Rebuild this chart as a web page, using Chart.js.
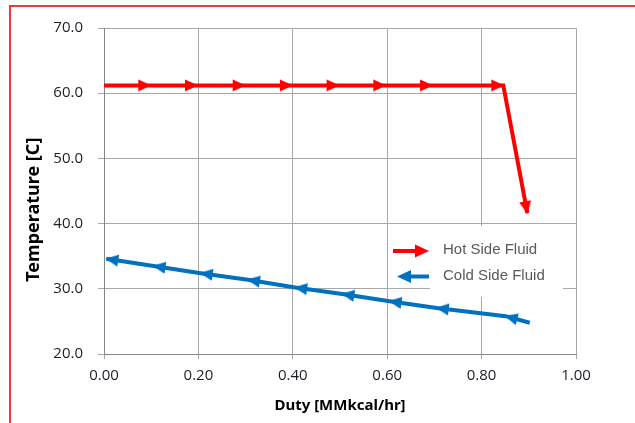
<!DOCTYPE html>
<html>
<head>
<meta charset="utf-8">
<script src="https://cdn.jsdelivr.net/npm/chart.js@4"></script>
<style>
  html, body { margin: 0; padding: 0; background: #fff; }
  #wrap { position: relative; width: 635px; height: 423px; }
  #frame {
    position: absolute; left: 9px; top: 5px; right: -5px; bottom: -5px;
    border-left: 2px solid #ee3a3a; border-top: 2px solid #ee3a3a;
    pointer-events: none;
  }
</style>
</head>
<body>
<div id="wrap">
  <canvas id="hx" width="635" height="423"></canvas>
  <div id="frame"></div>
</div>
<script>
// hot side: flat, then drops at the outlet
const hotX = [0.000, 0.098, 0.197, 0.298, 0.398, 0.497, 0.596, 0.695, 0.846, 0.897];
const hotY = [61.2, 61.2, 61.2, 61.2, 61.2, 61.2, 61.2, 61.2, 61.2, 41.6];

// cold side runs the other way (counter-current)
const coldX = [0.902, 0.851, 0.705, 0.605, 0.505, 0.405, 0.305, 0.205, 0.105, 0.005];
const coldY = [24.8, 25.8, 27.05, 28.1, 29.2, 30.2, 31.4, 32.4, 33.5, 34.6];

const seriesNames = ['Hot Side Fluid', 'Cold Side Fluid'];
const xTicks = [0, 0.2, 0.4, 0.6, 0.8, 1.0];
const yTicks = [20, 30, 40, 50, 60, 70];

const RED = '#ff0000';
const BLUE = '#0070c0';

// arrow head with its tip in the middle of the image
function arrowHead(color) {
    const c = document.createElement('canvas');
    c.width = 26; c.height = 13;
    const g = c.getContext('2d');
    g.fillStyle = color;
    g.beginPath();
    g.moveTo(1, 0.5);
    g.lineTo(14, 6.5);
    g.lineTo(1, 12.5);
    g.closePath();
    g.fill();
    return c;
}

function pts(xs, ys) {
    return xs.map((x, i) => ({ x: x, y: ys[i] }));
}

// turn each head along the segment that ends at that point
function segAngle(c) {
    const i = c.dataIndex;
    if (i === 0) return 0;
    const d = c.dataset.data;
    const sx = c.chart.scales.x, sy = c.chart.scales.y;
    const dx = sx.getPixelForValue(d[i].x) - sx.getPixelForValue(d[i - 1].x);
    const dy = sy.getPixelForValue(d[i].y) - sy.getPixelForValue(d[i - 1].y);
    return Math.atan2(dy, dx) * 180 / Math.PI;
}

const legendBox = {
    id: 'legendBox',
    afterDatasetsDraw(chart) {
        const ctx = chart.ctx;
        ctx.save();
        ctx.fillStyle = '#fff';
        ctx.fillRect(389, 226, 174, 61);
        ctx.fillRect(430, 286, 133, 11);

        const items = [
            { y: 251, color: RED, dir: 1 },
            { y: 276.5, color: BLUE, dir: -1 }
        ];
        items.forEach((it, k) => {
            ctx.strokeStyle = it.color;
            ctx.fillStyle = it.color;
            ctx.lineWidth = 4;
            ctx.beginPath();
            if (it.dir > 0) {
                ctx.moveTo(393, it.y); ctx.lineTo(418, it.y);
            } else {
                ctx.moveTo(408, it.y); ctx.lineTo(429, it.y);
            }
            ctx.stroke();
            ctx.beginPath();
            if (it.dir > 0) {
                ctx.moveTo(415, it.y - 6.5); ctx.lineTo(429, it.y); ctx.lineTo(415, it.y + 6.5);
            } else {
                ctx.moveTo(411, it.y - 6.5); ctx.lineTo(397, it.y); ctx.lineTo(411, it.y + 6.5);
            }
            ctx.closePath();
            ctx.fill();

            ctx.fillStyle = '#595959';
            ctx.font = '15px "Liberation Sans", Arial, sans-serif';
            ctx.textBaseline = 'middle';
            ctx.textAlign = 'left';
            ctx.fillText(seriesNames[k], 443, it.y - 1);
        });
        ctx.restore();
    }
};

new Chart(document.getElementById('hx'), {
    type: 'scatter',
    data: {
        datasets: [{
            label: seriesNames[0],
            data: pts(hotX, hotY),
            showLine: true,
            borderColor: RED,
            borderWidth: 4,
            tension: 0,
            pointStyle: arrowHead(RED),
            pointRadius: c => c.dataIndex === 0 ? 0 : 6,
            rotation: segAngle
        }, {
            label: seriesNames[1],
            data: pts(coldX, coldY),
            showLine: true,
            borderColor: BLUE,
            borderWidth: 4,
            tension: 0,
            pointStyle: arrowHead(BLUE),
            pointRadius: c => c.dataIndex === 0 ? 0 : 6,
            rotation: segAngle
        }]
    },
    options: {
        responsive: false,
        animation: false,
        layout: { padding: { top: 28, right: 59, left: 0, bottom: 0 } },
        plugins: {
            legend: { display: false },
            tooltip: { enabled: false }
        },
        scales: {
            x: {
                type: 'linear',
                min: 0,
                max: 1,
                afterBuildTicks: s => { s.ticks = xTicks.map(v => ({ value: v })); },
                afterFit: s => { s.height = 69; },
                ticks: {
                    padding: 8,
                    color: '#1e1e2a',
                    font: { family: '"Open Sans", "Noto Sans", sans-serif', size: 15 },
                    callback: v => Number(v).toFixed(2)
                },
                grid: { color: '#a8a8a8', tickLength: 5 },
                border: { color: '#868686' },
                title: {
                    display: true,
                    text: 'Duty [MMkcal/hr]',
                    color: '#000',
                    font: { family: '"Noto Sans", sans-serif', size: 15, weight: 'bold' },
                    padding: { top: 0, bottom: 8 }
                }
            },
            y: {
                min: 20,
                max: 70,
                afterBuildTicks: s => { s.ticks = yTicks.map(v => ({ value: v })); },
                afterFit: s => { s.width = 104; },
                ticks: {
                    padding: 15,
                    color: '#1e1e2a',
                    font: { family: '"Open Sans", "Noto Sans", sans-serif', size: 15 },
                    callback: v => Number(v).toFixed(1)
                },
                grid: { color: '#a8a8a8', tickLength: 6 },
                border: { color: '#868686' },
                title: {
                    display: true,
                    text: 'Temperature [C]        ',
                    color: '#000',
                    font: { family: '"Noto Sans", sans-serif', size: 18, weight: 'bold' },
                    padding: { top: 23, bottom: 0 }
                }
            }
        }
    },
    plugins: [legendBox]
});
</script>
</body>
</html>
